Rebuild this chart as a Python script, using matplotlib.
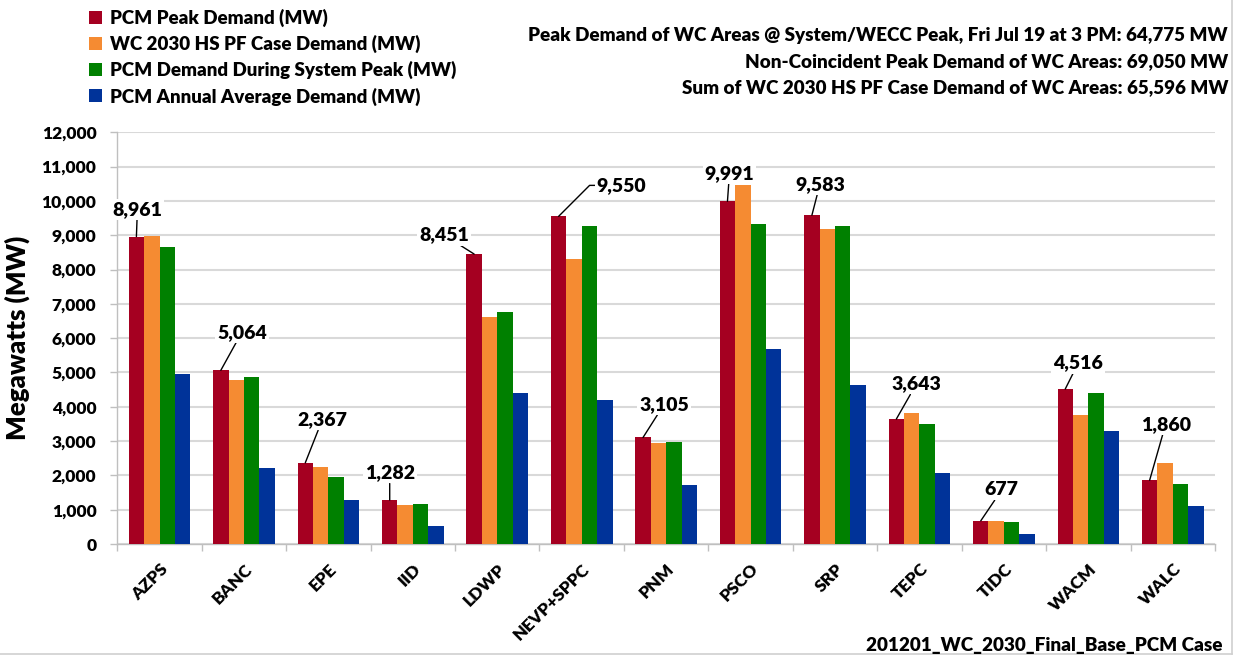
import matplotlib
matplotlib.use('Agg')
import matplotlib.pyplot as plt
import numpy as np
from matplotlib.patches import Patch
from matplotlib.lines import Line2D

W = 'heavy'
plt.rcParams['font.family'] = ['Lato', 'DejaVu Sans']
plt.rcParams['font.weight'] = W

# 各区域需求数据 (MW)
areas = ['AZPS', 'BANC', 'EPE', 'IID', 'LDWP', 'NEVP+SPPC', 'PNM', 'PSCO',
         'SRP', 'TEPC', 'TIDC', 'WACM', 'WALC']
pcm_peak = [8961, 5064, 2367, 1282, 8451, 9550, 3105, 9991, 9583, 3643, 677, 4516, 1860]
wc_2030_hs = [8990, 4780, 2240, 1140, 6610, 8310, 2935, 10475, 9175, 3815, 670, 3760, 2360]
pcm_sys_peak = [8660, 4870, 1955, 1170, 6755, 9280, 2975, 9330, 9260, 3490, 635, 4410, 1760]
pcm_avg = [4970, 2215, 1285, 525, 4395, 4205, 1710, 5695, 4645, 2070, 300, 3300, 1100]

series_names = ['PCM Peak Demand (MW)', 'WC 2030 HS PF Case Demand (MW)',
                'PCM Demand During System Peak (MW)', 'PCM Annual Average Demand (MW)']
colors = ['#A50021', '#F58B32', '#008000', '#003399']

# 峰值标签的偏移 (像素)
label_offsets = [(1, 27), (21, 38), (17, 43), (0, 27), (-30, 19), (63, 31),
                 (21, 33), (2, 28), (8, 31), (20, 35), (21, 31), (13, 26), (16, 56)]

info_lines = ['Peak Demand of WC Areas @ System/WECC Peak, Fri Jul 19 at 3 PM: 64,775 MW',
              'Non-Coincident Peak Demand of WC Areas: 69,050 MW',
              'Sum of WC 2030 HS PF Case Demand of WC Areas: 65,596 MW']
case_name = '201201_WC_2030_Final_Base_PCM Case'

fig = plt.figure(figsize=(12.36, 6.56), dpi=100)
ax = fig.add_axes([0.0949, 0.1707, 0.8881, 0.6276])

x = np.arange(len(areas))
bw = 0.1825
all_series = [pcm_peak, wc_2030_hs, pcm_sys_peak, pcm_avg]
for k, (vals, c) in enumerate(zip(all_series, colors)):
    ax.bar(x + (k - 1.5) * bw, vals, width=bw, color=c, zorder=3)

ax.set_xlim(-0.5, len(areas) - 0.5)
ax.set_ylim(0, 12000)
ax.set_yticks(np.arange(0, 12001, 1000))
ax.yaxis.set_major_formatter(matplotlib.ticker.StrMethodFormatter('{x:,.0f}'))
ax.grid(axis='y', color='#d9d9d9', linewidth=1.5, zorder=0)
ax.set_axisbelow(True)

ax.set_xticks(x)
ax.set_xticklabels(areas, rotation=45, ha='right', va='top', rotation_mode='anchor',
                   fontsize=12.5, fontweight=W)
ax.set_xticks(np.arange(-0.5, len(areas)), minor=True)
ax.tick_params(axis='x', which='major', length=0, pad=12)
ax.tick_params(axis='x', which='minor', length=5, color='#bfbfbf', width=1)
ax.tick_params(axis='y', length=5, color='#bfbfbf', width=1, pad=10, labelsize=12.5)
for t in ax.get_yticklabels():
    t.set_fontweight(W)

for s in ['top', 'right']:
    ax.spines[s].set_visible(False)
for s in ['left', 'bottom']:
    ax.spines[s].set_color('#bfbfbf')
    ax.spines[s].set_linewidth(1)

ax.set_ylabel('Megawatts (MW)', fontsize=18.5, fontweight=W, labelpad=8)

# 峰值数据标签及引线
for i, (v, off) in enumerate(zip(pcm_peak, label_offsets)):
    conn = 'angle,angleA=180,angleB=45,rad=0' if areas[i] == 'NEVP+SPPC' else 'arc3'
    ax.annotate(f'{v:,}', xy=(x[i] - 1.5 * bw, v), xytext=off, textcoords='offset pixels',
                ha='center', va='center', fontsize=14, fontweight=W,
                bbox=dict(boxstyle='square,pad=0.1', fc='white', ec='none'),
                arrowprops=dict(arrowstyle='-', color='black', lw=1,
                                connectionstyle=conn, shrinkA=0, shrinkB=0),
                zorder=5)

handles = [Patch(facecolor=c, edgecolor='none') for c in colors]
fig.legend(handles, series_names, loc='upper left', bbox_to_anchor=(0.058, 1.012),
           frameon=False, handlelength=0.72, handleheight=0.72,
           handletextpad=0.4, labelspacing=0.42, prop={'weight': W, 'size': 13.5})

for j, line in enumerate(info_lines):
    fig.text(1228 / 1236, 1 - (36 + 25.7 * j) / 656, line, ha='right', va='center',
             fontsize=13.6, fontweight=W)

fig.text(1222 / 1236, 1 - 645 / 656, case_name, ha='right', va='center',
         fontsize=13.6, fontweight=W)

# 图表外框
fig.add_artist(Line2D([1232 / 1236, 1232 / 1236], [2 / 656, 1], color='#d0d0d0', lw=1.2))
fig.add_artist(Line2D([0, 1232 / 1236], [2 / 656, 2 / 656], color='#d0d0d0', lw=1.2))

fig.savefig('out.png', dpi=100)
